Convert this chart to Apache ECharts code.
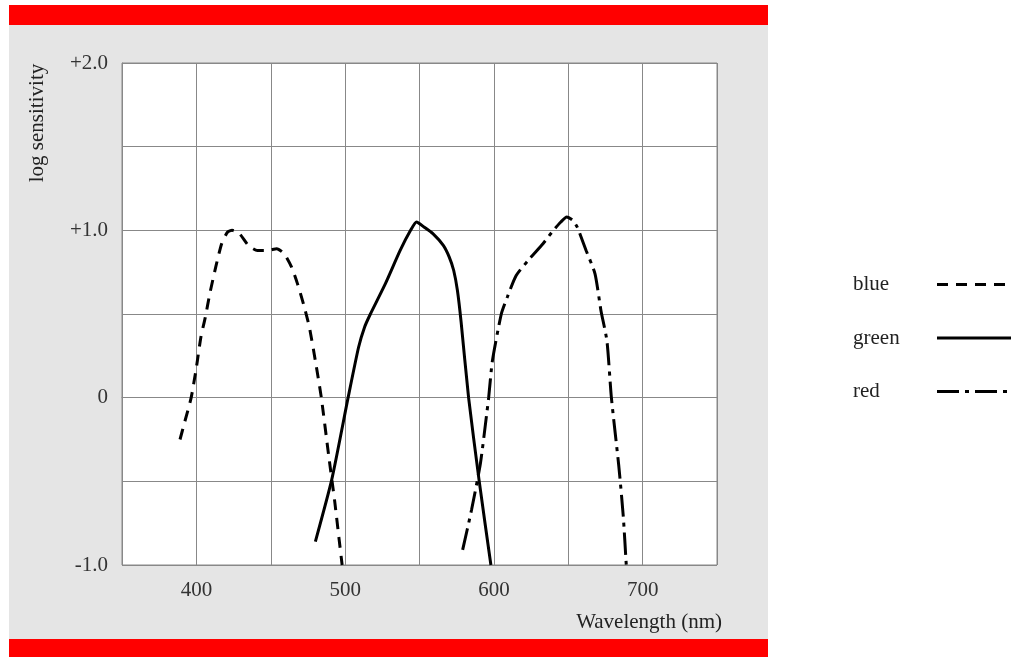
<!DOCTYPE html>
<html>
<head>
<meta charset="utf-8">
<title>log sensitivity</title>
<script src="https://cdn.jsdelivr.net/npm/echarts@6/dist/echarts.min.js"></script>
<style>
  html, body { margin: 0; padding: 0; background: #fff; }
  #chart { width: 1011px; height: 657px; }
</style>
</head>
<body>
<div id="chart"></div>
<script>
// curves: [wavelength nm, log sensitivity]
var blueData = [
  [389, -0.25], [392, -0.15], [396.5, 0.0], [400, 0.18], [403, 0.36], [406, 0.48],
  [409, 0.62], [413, 0.78], [417, 0.92], [421, 0.99], [424, 1.0], [429, 0.98],
  [435, 0.91], [441, 0.88], [448, 0.88], [454, 0.89], [459, 0.86], [464, 0.78],
  [468, 0.68], [472, 0.56], [476, 0.42], [480, 0.22], [484, 0.0], [489, -0.35],
  [493, -0.62], [496, -0.85], [498, -1.0]
];
var greenData = [
  [480, -0.86], [491, -0.49], [502, 0.0], [509, 0.3], [513, 0.42], [517, 0.5],
  [527, 0.68], [537, 0.88], [544, 1.0], [548, 1.05], [553, 1.02], [559, 0.98],
  [566, 0.91], [570, 0.84], [573, 0.76], [575.5, 0.64], [578, 0.45], [583, 0.0],
  [590, -0.49], [598, -1.0]
];
var redData = [
  [579, -0.91], [585, -0.67], [591, -0.39], [595, -0.11], [596.5, 0.0], [599, 0.22],
  [605, 0.5], [609, 0.6], [615, 0.73], [624, 0.83], [633, 0.92], [640, 1.0],
  [645, 1.05], [649, 1.08], [653, 1.06], [656, 1.02], [662, 0.88], [668, 0.74],
  [672, 0.52], [676, 0.34], [679, 0.0], [684, -0.41], [687, -0.71], [689, -1.0]
];
var seriesNames = ['blue', 'green', 'red'];

// tick labels
var xTickValues = [400, 500, 600, 700];
var yTickValues = [-1, 0, 1, 2];
var yTickLabels = ['-1.0', '0', '+1.0', '+2.0'];

var serif = '"Liberation Serif", "DejaVu Serif", serif';

var myChart = echarts.init(document.getElementById('chart'));

function curve(name, data, dash) {
  return {
    name: name,
    type: 'line',
    data: data,
    symbol: 'none',
    smooth: 0.2,
    lineStyle: { color: '#000', width: 3, type: dash, cap: 'butt' },
    itemStyle: { color: '#000' }
  };
}

myChart.setOption({
  animation: false,
  backgroundColor: '#fff',
  graphic: [
    // grey panel + red bars
    { type: 'rect', z: -10, shape: { x: 9, y: 25, width: 759, height: 614 }, style: { fill: '#e5e5e5' } },
    { type: 'rect', z: -10, shape: { x: 9, y: 5, width: 759, height: 20 }, style: { fill: '#ff0000' } },
    { type: 'rect', z: -10, shape: { x: 9, y: 639, width: 759, height: 18 }, style: { fill: '#ff0000' } },
    {
      type: 'text', x: 37, y: 123, rotation: Math.PI / 2,
      style: { text: 'log sensitivity', font: '21px ' + serif, fill: '#222', align: 'center', verticalAlign: 'middle' }
    },
    {
      type: 'text', x: 722, y: 622,
      style: { text: 'Wavelength (nm)', font: '21px ' + serif, fill: '#222', align: 'right', verticalAlign: 'middle' }
    }
  ],
  grid: {
    left: 122, right: 294, top: 63, bottom: 92,
    show: true, backgroundColor: '#fff', borderColor: '#888', borderWidth: 1
  },
  legend: {
    data: seriesNames,
    orient: 'vertical',
    align: 'right',
    left: 848,
    top: 269,
    itemWidth: 80,
    itemHeight: 20,
    itemGap: 32.5,
    lineStyle: { width: 3 },
    itemStyle: { opacity: 0 },
    formatter: '{a|{name}}',
    textStyle: {
      rich: { a: { width: 79, align: 'left', fontFamily: serif, fontSize: 21, color: '#222' } }
    }
  },
  xAxis: {
    type: 'value',
    min: 350, max: 750, interval: 50,
    axisLine: { lineStyle: { color: '#888' } },
    axisTick: { show: false },
    splitLine: { show: true, lineStyle: { color: '#888', width: 1 } },
    axisLabel: {
      margin: 15, color: '#333', fontFamily: serif, fontSize: 21,
      formatter: function (v) { return xTickValues.indexOf(v) >= 0 ? String(v) : ''; }
    }
  },
  yAxis: {
    type: 'value',
    min: -1, max: 2, interval: 0.5,
    axisLine: { show: true, lineStyle: { color: '#888' } },
    axisTick: { show: false },
    splitLine: { show: true, lineStyle: { color: '#888', width: 1 } },
    axisLabel: {
      margin: 14, color: '#333', fontFamily: serif, fontSize: 21,
      formatter: function (v) {
        var i = yTickValues.indexOf(v);
        return i >= 0 ? yTickLabels[i] : '';
      }
    }
  },
  series: [
    curve('blue', blueData, [11, 8]),
    curve('green', greenData, 'solid'),
    curve('red', redData, [22, 6, 4, 6])
  ]
});
</script>
</body>
</html>
